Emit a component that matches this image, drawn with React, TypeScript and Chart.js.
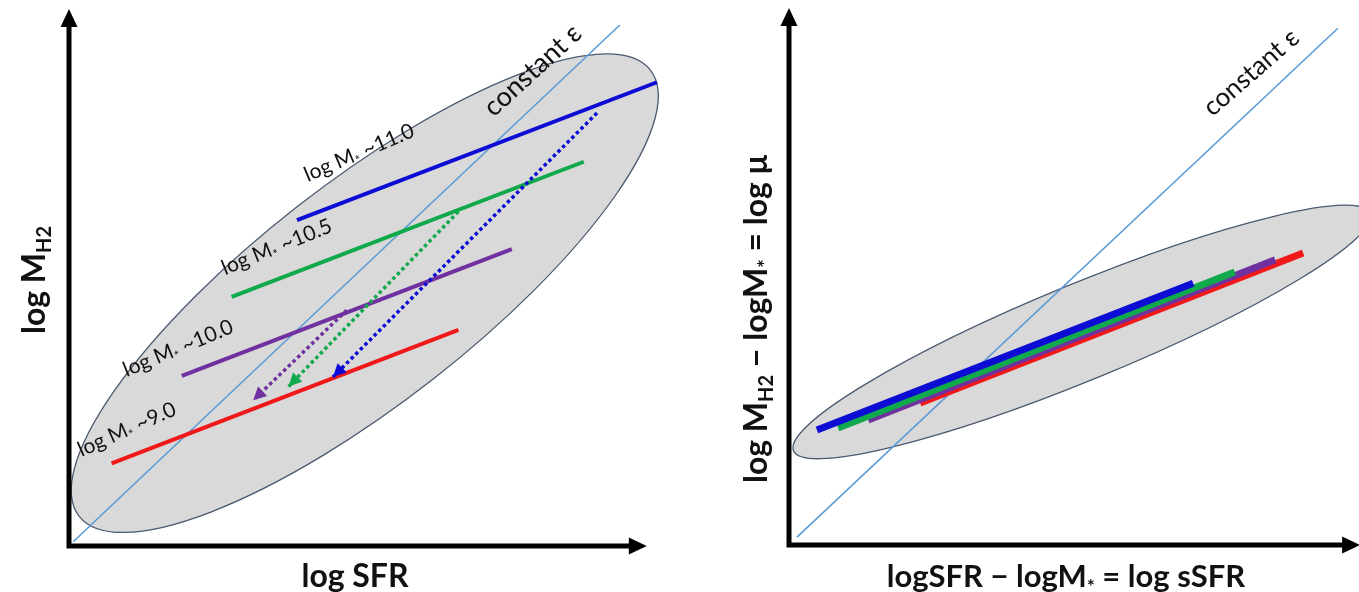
import React, { useEffect, useRef } from 'react';
import { Chart, registerables } from 'chart.js';

Chart.register(...registerables);

// ---------------- Left panel: log SFR vs log M_H2 (schematic units 0..10) ----------------
const leftEpsilon = [{ x: 0.07, y: 0.08 }, { x: 9.18, y: 9.83 }];
const leftM110 = [{ x: 3.8, y: 6.15 }, { x: 9.8, y: 8.75 }];
const leftM105 = [{ x: 2.71, y: 4.7 }, { x: 8.58, y: 7.25 }];
const leftM100 = [{ x: 1.88, y: 3.21 }, { x: 7.38, y: 5.6 }];
const leftM90 = [{ x: 0.71, y: 1.56 }, { x: 6.49, y: 4.08 }];
const leftDropM110 = [{ x: 8.8, y: 8.17 }, { x: 4.4, y: 3.19 }];
const leftDropM105 = [{ x: 6.49, y: 6.31 }, { x: 3.66, y: 3.01 }];
const leftDropM100 = [{ x: 4.63, y: 4.45 }, { x: 3.07, y: 2.75 }];
const leftEllipseCenter = [4.93, 4.77];
const leftEllipseMajorEnd = [9.69, 8.98];
const leftEllipseMinorEnd = [6.06, 3.14];
const leftAxisTips = [9.63, 10.13];

// ---------------- Right panel: log sSFR vs log mu ----------------
const rightEpsilon = [{ x: 0.14, y: 0.15 }, { x: 9.63, y: 9.75 }];
const rightM110 = [{ x: 0.49, y: 2.17 }, { x: 7.09, y: 4.94 }];
const rightM105 = [{ x: 0.86, y: 2.21 }, { x: 7.82, y: 5.15 }];
const rightM100 = [{ x: 1.39, y: 2.36 }, { x: 8.53, y: 5.38 }];
const rightM90 = [{ x: 2.3, y: 2.68 }, { x: 9.02, y: 5.51 }];
const rightEllipseCenter = [5.14, 4.02];
const rightEllipseMajorEnd = [10.2, 6.26];
const rightEllipseMinorEnd = [5.46, 3.18];
const rightAxisTips = [10.02, 10.13];

// ---------------- Text ----------------
type Run = [string, number]; // [text, 1 = subscript]
const massLabels: Run[][] = [
  [['log M', 0], ['*', 1], [' ~11.0', 0]],
  [['log M', 0], ['*', 1], [' ~10.5', 0]],
  [['log M', 0], ['*', 1], [' ~10.0', 0]],
  [['log M', 0], ['*', 1], [' ~9.0', 0]],
];
const massLabelAnchors = [[3.98, 6.87], [2.6, 5.11], [0.96, 3.19], [0.21, 1.68]];
const massLabelAngles = [-23, -22, -22.5, -24];
const epsilonLabel: Run[] = [['constant ε', 0]];
const leftEpsilonLabelAnchor = [7.08, 8.08];
const rightEpsilonLabelAnchor = [7.43, 8.07];
const leftXTitle: Run[] = [['log SFR', 0]];
const leftYTitle: Run[] = [['log M', 0], ['H2', 1]];
const rightXTitle: Run[] = [['logSFR − logM', 0], ['*', 1], [' = log sSFR', 0]];
const rightYTitle: Run[] = [['log M', 0], ['H2', 1], [' − logM', 0], ['*', 1], [' = log μ', 0]];

const COLORS = {
  blue: '#0c0cd4',
  green: '#10a94c',
  purple: '#7030a0',
  red: '#f01818',
  eps: '#5b9bd5',
  fill: '#d9d9d9',
  edge: '#4a5a70',
};

const FONT = 'Lato, "Open Sans", "DejaVu Sans", sans-serif';

function drawRuns(
  ctx: CanvasRenderingContext2D,
  runs: Run[],
  x: number,
  y: number,
  angle: number,
  size: number,
  weight: string,
  align: 'left' | 'center'
) {
  ctx.save();
  ctx.translate(x, y);
  ctx.rotate((angle * Math.PI) / 180);
  const fontFor = (sub: number) => `${weight} ${sub ? Math.round(size * 0.62) : size}px ${FONT}`;
  let total = 0;
  for (const [t, sub] of runs) {
    ctx.font = fontFor(sub);
    total += ctx.measureText(t).width;
  }
  let cx = align === 'center' ? -total / 2 : 0;
  ctx.fillStyle = '#111';
  ctx.textAlign = 'left';
  ctx.textBaseline = 'alphabetic';
  for (const [t, sub] of runs) {
    ctx.font = fontFor(sub);
    ctx.fillText(t, cx, sub ? size * 0.2 : 0);
    cx += ctx.measureText(t).width;
  }
  ctx.restore();
}

type PanelSpec = {
  datasets: any[];
  arrowSets: number[];
  ellipse: number[][];
  tips: number[];
  padding: { left: number; right: number; top: number; bottom: number };
  drawText: (chart: any, ctx: CanvasRenderingContext2D) => void;
};

function makePanel(canvas: HTMLCanvasElement, spec: PanelSpec) {
  const plugin = {
    id: 'schematic',
    beforeDatasetsDraw(chart: any) {
      const { ctx, scales } = chart;
      const xs = scales.x, ys = scales.y;
      const [c, m, n] = spec.ellipse;
      const cx = xs.getPixelForValue(c[0]), cy = ys.getPixelForValue(c[1]);
      const mx = xs.getPixelForValue(m[0]), my = ys.getPixelForValue(m[1]);
      const nx = xs.getPixelForValue(n[0]), ny = ys.getPixelForValue(n[1]);
      ctx.save();
      ctx.beginPath();
      ctx.save();
      ctx.transform(mx - cx, my - cy, nx - cx, ny - cy, cx, cy);
      ctx.arc(0, 0, 1, 0, Math.PI * 2);
      ctx.restore();
      ctx.fillStyle = COLORS.fill;
      ctx.fill();
      ctx.lineWidth = 1.3;
      ctx.strokeStyle = COLORS.edge;
      ctx.stroke();
      ctx.restore();
    },
    afterDatasetsDraw(chart: any) {
      const { ctx, scales } = chart;
      const xs = scales.x, ys = scales.y;
      for (const i of spec.arrowSets) {
        const meta = chart.getDatasetMeta(i);
        const pts = meta.data;
        const a = pts[pts.length - 2], b = pts[pts.length - 1];
        const ang = Math.atan2(b.y - a.y, b.x - a.x);
        const len = 13, hw = 6.5;
        ctx.save();
        ctx.translate(b.x, b.y);
        ctx.rotate(ang);
        ctx.beginPath();
        ctx.moveTo(0, 0);
        ctx.lineTo(-len, -hw);
        ctx.lineTo(-len, hw);
        ctx.closePath();
        ctx.fillStyle = chart.data.datasets[i].borderColor;
        ctx.fill();
        ctx.restore();
      }
      const ox = xs.getPixelForValue(0), oy = ys.getPixelForValue(0);
      const tx = xs.getPixelForValue(spec.tips[0]);
      const ty = ys.getPixelForValue(spec.tips[1]);
      const head = 18, hw = 8.5;
      ctx.save();
      ctx.strokeStyle = '#000';
      ctx.fillStyle = '#000';
      ctx.lineWidth = 5;
      ctx.lineJoin = 'miter';
      ctx.beginPath();
      ctx.moveTo(ox, ty + head - 1);
      ctx.lineTo(ox, oy);
      ctx.lineTo(tx - head + 1, oy);
      ctx.stroke();
      ctx.beginPath();
      ctx.moveTo(ox, ty);
      ctx.lineTo(ox - hw, ty + head);
      ctx.lineTo(ox + hw, ty + head);
      ctx.closePath();
      ctx.fill();
      ctx.beginPath();
      ctx.moveTo(tx, oy);
      ctx.lineTo(tx - head, oy - hw);
      ctx.lineTo(tx - head, oy + hw);
      ctx.closePath();
      ctx.fill();
      ctx.restore();
    },
    afterDraw(chart: any) {
      spec.drawText(chart, chart.ctx);
    },
  };

  return new Chart(canvas, {
    type: 'scatter',
    data: { datasets: spec.datasets },
    options: {
      responsive: false,
      animation: false,
      events: [],
      layout: { padding: spec.padding },
      plugins: { legend: { display: false }, tooltip: { enabled: false }, title: { display: false } },
      scales: {
        x: { type: 'linear', min: 0, max: 10, display: false },
        y: { type: 'linear', min: 0, max: 10, display: false },
      },
    },
    plugins: [plugin],
  } as any);
}

function line(data: any[], color: string, width: number, dotted = false) {
  return {
    data,
    showLine: true,
    borderColor: color,
    backgroundColor: color,
    borderWidth: width,
    borderDash: dotted ? [3.5, 3] : [],
    borderCapStyle: 'butt',
    pointRadius: 0,
    tension: 0,
    clip: false,
  };
}

export default function App() {
  const leftRef = useRef<HTMLCanvasElement>(null);
  const rightRef = useRef<HTMLCanvasElement>(null);

  useEffect(() => {
    const left = makePanel(leftRef.current!, {
      datasets: [
        line(leftDropM110, COLORS.blue, 3.5, true),
        line(leftDropM105, COLORS.green, 3.5, true),
        line(leftDropM100, COLORS.purple, 3.5, true),
        line(leftM110, COLORS.blue, 4),
        line(leftM105, COLORS.green, 4),
        line(leftM100, COLORS.purple, 4),
        line(leftM90, COLORS.red, 4),
        line(leftEpsilon, COLORS.eps, 1.6),
      ],
      arrowSets: [0, 1, 2],
      ellipse: [leftEllipseCenter, leftEllipseMajorEnd, leftEllipseMinorEnd],
      tips: leftAxisTips,
      padding: { left: 69, right: 11, top: 16, bottom: 46 },
      drawText(chart, ctx) {
        const xs = chart.scales.x, ys = chart.scales.y;
        massLabels.forEach((runs, i) => {
          const [ax, ay] = massLabelAnchors[i];
          drawRuns(ctx, runs, xs.getPixelForValue(ax), ys.getPixelForValue(ay), massLabelAngles[i], 21, 'normal', 'left');
        });
        drawRuns(ctx, epsilonLabel, xs.getPixelForValue(leftEpsilonLabelAnchor[0]), ys.getPixelForValue(leftEpsilonLabelAnchor[1]), -42.5, 27, 'normal', 'left');
        const area = chart.chartArea;
        drawRuns(ctx, leftXTitle, 355, area.bottom + 41, 0, 32, 'bold', 'center');
        drawRuns(ctx, leftYTitle, 45, 280, -90, 32, 'bold', 'center');
      },
    });
    const right = makePanel(rightRef.current!, {
      datasets: [
        line(rightM110, COLORS.blue, 7),
        line(rightM105, COLORS.green, 7),
        line(rightM100, COLORS.purple, 7),
        line(rightM90, COLORS.red, 7),
        line(rightEpsilon, COLORS.eps, 1.6),
      ],
      arrowSets: [],
      ellipse: [rightEllipseCenter, rightEllipseMajorEnd, rightEllipseMinorEnd],
      tips: rightAxisTips,
      padding: { left: 109, right: 0, top: 15, bottom: 47 },
      drawText(chart, ctx) {
        const xs = chart.scales.x, ys = chart.scales.y;
        drawRuns(ctx, epsilonLabel, xs.getPixelForValue(rightEpsilonLabelAnchor[0]), ys.getPixelForValue(rightEpsilonLabelAnchor[1]), -41, 26, 'normal', 'left');
        const area = chart.chartArea;
        drawRuns(ctx, rightXTitle, 386, area.bottom + 42, 0, 31, 'bold', 'center');
        drawRuns(ctx, rightYTitle, 87, 319, -90, 32, 'bold', 'center');
      },
    });
    return () => {
      left.destroy();
      right.destroy();
    };
  }, []);

  return (
    <div style={{ position: 'fixed', left: 0, top: 0, width: 1359, height: 592, background: '#fff', overflow: 'hidden' }}>
      <canvas ref={leftRef} width={680} height={592} style={{ position: 'absolute', left: 0, top: 0 }} />
      <canvas ref={rightRef} width={679} height={592} style={{ position: 'absolute', left: 680, top: 0 }} />
    </div>
  );
}
